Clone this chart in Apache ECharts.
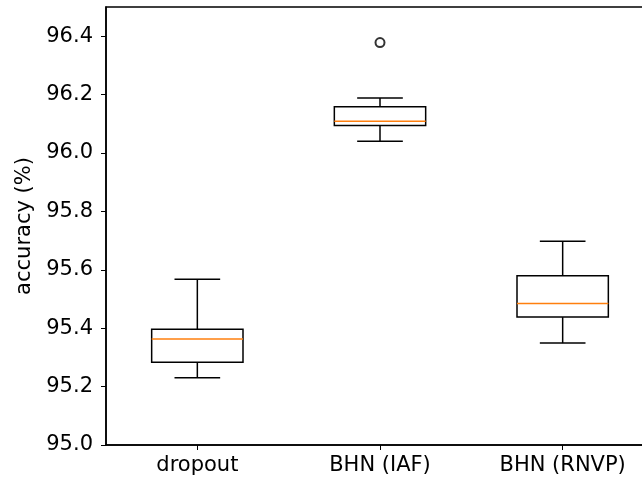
<!DOCTYPE html>
<html>
<head>
<meta charset="utf-8">
<script src="https://cdn.jsdelivr.net/npm/echarts@6/dist/echarts.min.js"></script>
<style>
html,body{margin:0;padding:0;background:#fff;overflow:hidden;}
#chart{width:660px;height:479px;}
</style>
</head>
<body>
<div id="chart"></div>
<script>
// Category labels
var categories = ['dropout', 'BHN (IAF)', 'BHN (RNVP)'];
// Box statistics per category: [lower whisker, Q1, median, Q3, upper whisker]
var lowerWhisker = [95.230, 96.040, 95.349];
var q1Values     = [95.283, 96.094, 95.438];
var medianValues = [95.363, 96.109, 95.485];
var q3Values     = [95.396, 96.158, 95.580];
var upperWhisker = [95.568, 96.188, 95.698];
// Outliers: [category index, value]
var outliers = [[1, 96.378]];
// Y tick labels
var yTicks = [95.0, 95.2, 95.4, 95.6, 95.8, 96.0, 96.2, 96.4];

var boxData = categories.map(function (c, i) {
  return [i, lowerWhisker[i], q1Values[i], medianValues[i], q3Values[i], upperWhisker[i]];
});

var FONT = 'DejaVu Sans';
var LW = 1.5;

var chart = echarts.init(document.getElementById('chart'), null, {renderer: 'canvas'});
chart.setOption({
  animation: false,
  backgroundColor: '#fff',
  grid: {
    left: 106, right: 6, top: 7, bottom: 34,
    show: true, borderColor: '#000', borderWidth: LW, backgroundColor: 'transparent'
  },
  xAxis: {
    type: 'category',
    data: categories,
    boundaryGap: true,
    axisLine: {lineStyle: {color: '#000', width: LW}},
    axisTick: {show: true, alignWithLabel: true, length: 5, lineStyle: {color: '#000', width: 1}},
    axisLabel: {color: '#000', fontSize: 21, fontFamily: FONT, margin: 10},
    splitLine: {show: false}
  },
  yAxis: {
    type: 'value',
    min: 95.0,
    max: 96.5,
    interval: 0.1,
    name: 'accuracy (%)',
    nameLocation: 'middle',
    nameGap: 63,
    nameTextStyle: {color: '#000', fontSize: 21, fontFamily: FONT},
    axisLine: {show: true, lineStyle: {color: '#000', width: LW}},
    axisTick: {show: true, length: 5, customValues: yTicks, lineStyle: {color: '#000', width: 1}},
    axisLabel: {
      color: '#000', fontSize: 21, fontFamily: FONT, margin: 13,
      customValues: yTicks,
      formatter: function (v) { return v.toFixed(1); }
    },
    splitLine: {show: false}
  },
  series: [
    {
      type: 'custom',
      data: boxData,
      renderItem: function (params, api) {
        var idx = api.value(0);
        var band = api.size([1, 0])[0];
        var hw = band * 0.25;
        var cw = band * 0.125;
        var pLo = api.coord([idx, api.value(1)]);
        var pQ1 = api.coord([idx, api.value(2)]);
        var pMed = api.coord([idx, api.value(3)]);
        var pQ3 = api.coord([idx, api.value(4)]);
        var pHi = api.coord([idx, api.value(5)]);
        var x = pQ1[0];
        var stroke = {stroke: '#000', lineWidth: LW, fill: null};
        return {
          type: 'group',
          children: [
            {type: 'line', shape: {x1: x, y1: pHi[1], x2: x, y2: pQ3[1]}, style: stroke},
            {type: 'line', shape: {x1: x, y1: pQ1[1], x2: x, y2: pLo[1]}, style: stroke},
            {type: 'line', shape: {x1: x - cw, y1: pHi[1], x2: x + cw, y2: pHi[1]}, style: stroke},
            {type: 'line', shape: {x1: x - cw, y1: pLo[1], x2: x + cw, y2: pLo[1]}, style: stroke},
            {type: 'rect', shape: {x: x - hw, y: pQ3[1], width: 2 * hw, height: pQ1[1] - pQ3[1]},
             style: {stroke: '#000', lineWidth: LW, fill: 'transparent'}},
            {type: 'line', shape: {x1: x - hw, y1: pMed[1], x2: x + hw, y2: pMed[1]},
             style: {stroke: '#ff7f0e', lineWidth: LW}}
          ]
        };
      }
    },
    {
      type: 'scatter',
      data: outliers,
      symbol: 'emptyCircle',
      symbolSize: 9,
      itemStyle: {color: '#000', borderColor: '#000', borderWidth: LW}
    }
  ]
});
</script>
</body>
</html>
